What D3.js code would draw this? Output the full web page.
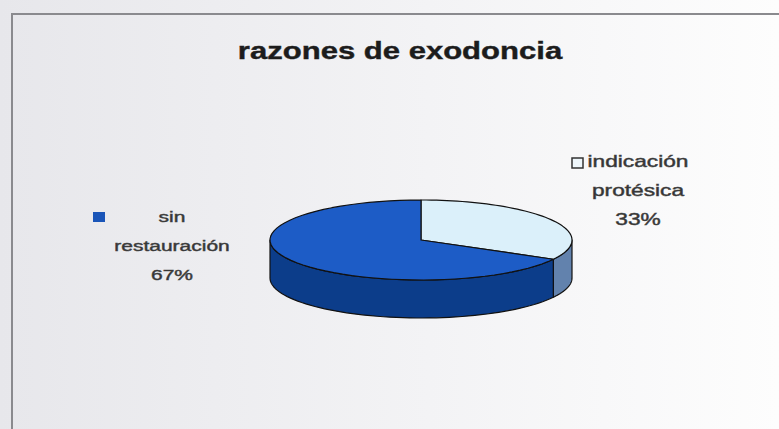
<!DOCTYPE html>
<html>
<head>
<meta charset="utf-8">
<script src="https://cdn.jsdelivr.net/npm/d3@7"></script>
<style>
  body { margin: 0; background: #fff; }
  text { font-family: "Liberation Sans", Arial, sans-serif; }
</style>
</head>
<body>
<div id="chart"></div>
<script>
var title = "razones de exodoncia";
var categories = ["indicación protésica", "sin restauración"];
var values = [33, 67];

var width = 779,
    height = 429;

var svg = d3.select("#chart").append("svg")
    .attr("width", width)
    .attr("height", height);

// scanned page: greyish on the left, fading to white
var grad = svg.append("defs").append("linearGradient")
    .attr("id", "bg").attr("x1", 0).attr("x2", 1).attr("y1", 0).attr("y2", 0);
grad.append("stop").attr("offset", 0).attr("stop-color", "#e7e7eb");
grad.append("stop").attr("offset", 0.55).attr("stop-color", "#f3f3f5");
grad.append("stop").attr("offset", 1).attr("stop-color", "#fdfdfd");
svg.append("rect").attr("width", width).attr("height", height).attr("fill", "url(#bg)");

// frame (only top and left edges show in the scan)
svg.append("path")
    .attr("d", "M12," + height + "V14H" + width)
    .attr("fill", "none")
    .attr("stroke", "#8a8a8e")
    .attr("stroke-width", 2);

// text is stretched sideways in the scan
function stretched(g, x, y, str, size, sx, weight) {
  return g.append("text")
      .attr("transform", "translate(" + x + "," + y + ") scale(" + sx + ",1)")
      .attr("text-anchor", "middle")
      .attr("font-size", size)
      .attr("font-weight", weight || "normal")
      .attr("fill", "#333")
      .attr("stroke", "#444")
      .attr("stroke-width", 0.45)
      .text(str);
}

stretched(svg, 400, 59, title, 23, 1.35, "bold")
    .attr("fill", "#1c1c1c").attr("stroke", "#1c1c1c").attr("stroke-width", 0.4);

// 3D pie
var cx = 421, cy = 240, rx = 151, ry = 40, depth = 38;
var topColors = ["#dbf0fa", "#1d5cc6"],
    sideColors = ["#6282ad", "#0c3d8a"];

var pie = d3.pie().sort(null).value(function(d) { return d; });
var arcs = pie(values);

function pt(a, dy) {
  return [cx + rx * Math.sin(a), cy - ry * Math.cos(a) + (dy || 0)];
}

function topPath(d) {
  var p = d3.path(), n = 60;
  p.moveTo(cx, cy);
  for (var i = 0; i <= n; i++) {
    var q = pt(d.startAngle + (d.endAngle - d.startAngle) * i / n);
    p.lineTo(q[0], q[1]);
  }
  p.closePath();
  return p.toString();
}

function sidePath(d) {
  var a0 = Math.max(d.startAngle, Math.PI / 2),
      a1 = Math.min(d.endAngle, 3 * Math.PI / 2);
  if (a1 <= a0) return null;
  var pts = [], n = 60, i;
  for (i = 0; i <= n; i++) pts.push(pt(a0 + (a1 - a0) * i / n));
  for (i = n; i >= 0; i--) pts.push(pt(a0 + (a1 - a0) * i / n, depth));
  return d3.line()(pts) + "Z";
}

var pieG = svg.append("g");

pieG.selectAll("path.side")
    .data(arcs.filter(function(d) { return sidePath(d); }))
  .enter().append("path")
    .attr("class", "side")
    .attr("d", sidePath)
    .attr("fill", function(d) { return sideColors[d.index]; })
    .attr("stroke", "#111")
    .attr("stroke-width", 1.2)
    .attr("stroke-linejoin", "round");

pieG.selectAll("path.top")
    .data(arcs)
  .enter().append("path")
    .attr("class", "top")
    .attr("d", topPath)
    .attr("fill", function(d) { return topColors[d.index]; })
    .attr("stroke", "#111")
    .attr("stroke-width", 1.2)
    .attr("stroke-linejoin", "round");

// labels with legend keys
var labelPos = [
  {x: 638, y: 167, size: 16, sx: 1.42, key: [572, 158, 11, 10]},
  {x: 172, y: 222, size: 15, sx: 1.4, key: [93, 212, 12, 10]}
];
var lineGap = [29, 29];

arcs.forEach(function(d, i) {
  var lp = labelPos[i];
  var g = svg.append("g");
  var words = categories[i].split(" ");
  var lines = words.concat([values[i] + "%"]);
  lines.forEach(function(s, j) {
    stretched(g, lp.x, lp.y + j * lineGap[i], s, lp.size, lp.sx);
  });
  g.append("rect")
      .attr("x", lp.key[0]).attr("y", lp.key[1])
      .attr("width", lp.key[2]).attr("height", lp.key[3])
      .attr("fill", i === 0 ? "#eef6fb" : "#1a55b8")
      .attr("stroke", i === 0 ? "#333" : "none")
      .attr("stroke-width", 1.5);
});
</script>
</body>
</html>
